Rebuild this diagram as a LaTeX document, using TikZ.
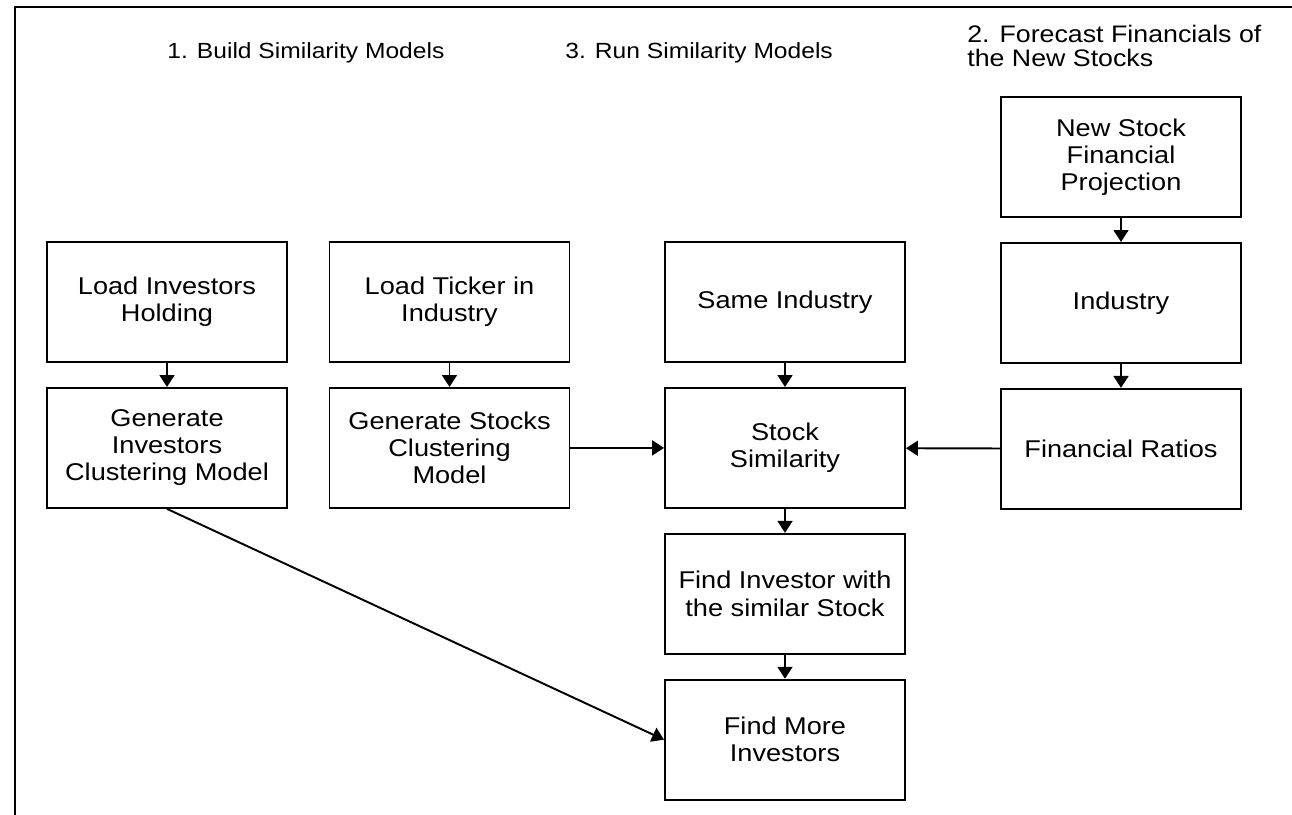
\documentclass[tikz,border=0pt]{standalone}
\usepackage{fontspec}
\setmainfont{Liberation Sans}[FakeStretch=1.12]
\usetikzlibrary{arrows.meta,positioning}
\begin{document}
\begin{tikzpicture}[x=0.02cm,y=-0.02cm,
  box/.style={draw,line width=1.1pt,minimum width=4.8cm,minimum height=2.4cm,align=center,inner sep=2pt,font=\fontsize{13.8}{15.4}\selectfont},
  head/.style={align=left,inner sep=0pt,font=\fontsize{12.5}{13.1}\selectfont},
  link/.style={-{Triangle[length=6.8pt,width=8.5pt]},line width=1.1pt}]
\useasboundingbox (0,0) rectangle (1292,815);
\draw[line width=1.4pt] (15,815)--(15,7)--(1292,7);
\node[head,anchor=base west] (t1) at (167,58) {1. Build Similarity Models};
\node[head,anchor=base west] (t3) at (565,58) {3. Run Similarity Models};
\node[head,anchor=base west,font=\fontsize{13.6}{13.1}\selectfont] (t2) at (967,66) {2. Forecast Financials of\\the New Stocks};
\node[box] (lih) at (167,302) {Load Investors\\Holding};
\node[box,below=0.48cm of lih] (gic) {Generate\\Investors\\Clustering Model};
\node[box] (ltk) at (449.5,302) {Load Ticker in\\Industry};
\node[box,below=0.48cm of ltk] (gsc) {Generate Stocks\\Clustering\\Model};
\node[box] (sind) at (785,302) {Same Industry};
\node[box,below=0.48cm of sind] (ssim) {Stock\\Similarity};
\node[box,below=0.48cm of ssim] (fis) {Find Investor with\\the similar Stock};
\node[box,below=0.48cm of fis] (fmi) {Find More\\Investors};
\node[box] (nsp) at (1121,157) {New Stock\\Financial\\Projection};
\node[box,below=0.48cm of nsp] (ind) {Industry};
\node[box,below=0.48cm of ind] (fra) {Financial Ratios};
\draw[link] (lih)--(gic);
\draw[link] (ltk)--(gsc);
\draw[link] (sind)--(ssim);
\draw[link] (ssim)--(fis);
\draw[link] (fis)--(fmi);
\draw[link] (nsp)--(ind);
\draw[link] (ind)--(fra);
\draw[link] (gsc)--(ssim);
\draw[link] (fra)--(ssim);
\draw[link] (gic.south)--(fmi.west);
\end{tikzpicture}
\end{document}
